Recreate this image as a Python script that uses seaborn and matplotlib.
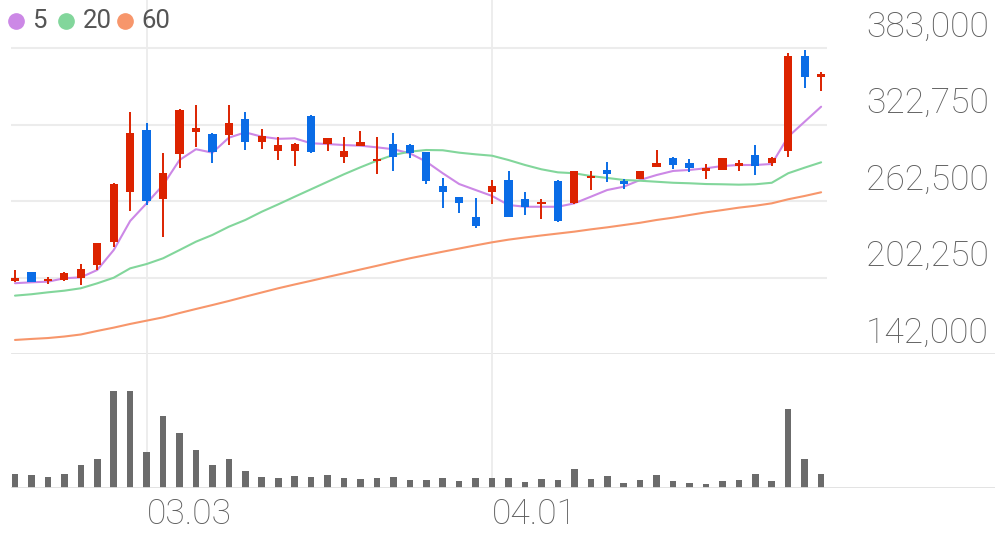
import numpy as np
import pandas as pd
import seaborn as sns
import matplotlib
matplotlib.use("Agg")
import matplotlib.pyplot as plt
from matplotlib.transforms import offset_copy, blended_transform_factory

# daily candles (50 trading days)
opens = [200000, 207000, 199500, 200500, 202000, 212500, 230500, 269500, 318500, 264500,
         300000, 317000, 315500, 314500, 327500, 309000, 302000, 302000, 330000, 307500,
         297000, 306000, 294000, 308000, 307000, 301000, 274500, 265500, 250000, 270000,
         279500, 264500, 260000, 278500, 261000, 280500, 287000, 278500, 280000, 289500,
         296500, 293000, 286500, 287500, 290500, 299000, 292500, 302500, 377000, 360500]
highs = [208500, 207000, 202500, 207000, 213000, 230000, 277000, 332500, 324000, 300500,
         335500, 338500, 316000, 338500, 332500, 319500, 313000, 308500, 330500, 312000,
         313500, 318000, 313500, 316000, 307500, 301500, 280500, 266000, 265000, 279500,
         286000, 270000, 264000, 279500, 286500, 286500, 293500, 280000, 286500, 303000,
         297500, 295500, 292000, 296500, 295000, 306500, 297500, 379000, 382000, 364500]
lows = [199000, 199000, 197000, 200000, 196500, 208500, 226500, 255000, 259500, 234000,
        289000, 305000, 293000, 307000, 303000, 303500, 295000, 290000, 300500, 302000,
        293000, 306000, 284000, 286500, 296500, 276500, 257000, 253500, 241500, 260000,
        250000, 251500, 248500, 246500, 260500, 271500, 278000, 272000, 280000, 289500,
        288000, 285500, 280000, 287500, 286500, 283000, 290000, 297000, 352000, 349000]
closes = [202000, 199000, 200500, 206000, 209500, 229500, 276000, 316000, 262500, 285000,
          334500, 320500, 301000, 324500, 309500, 314000, 307000, 307500, 301000, 312000,
          302000, 309500, 296000, 297500, 300500, 278500, 269500, 261500, 243000, 274500,
          250500, 258000, 261500, 247000, 286000, 282000, 284000, 276000, 286500, 293000,
          291000, 288500, 288500, 296500, 293000, 290500, 296500, 377000, 360500, 363000]

# moving averages
ma5 = [198000, 198700, 199200, 201900, 202600, 208400, 224100, 247000, 260900, 275300,
       295000, 303500, 300800, 312600, 316800, 313400, 311700, 312100, 308200, 307600,
       306800, 306300, 305000, 303500, 300300, 293700, 284600, 276100, 271400, 266700,
       259600, 258200, 258200, 258200, 260900, 266100, 271400, 274000, 279300, 283200,
       286400, 287200, 288500, 290300, 291100, 291100, 291900, 313400, 325200, 337000]
ma20 = [188200, 189300, 190800, 192100, 194000, 197900, 202300, 209700, 213100, 217600,
        224100, 230700, 236000, 242500, 247800, 254300, 260100, 266100, 272000, 277900,
        283800, 289300, 294500, 299000, 301600, 302900, 302700, 300800, 299500, 298400,
        295000, 291100, 287700, 285300, 284600, 282400, 280900, 279300, 278700, 277900,
        277100, 276700, 276100, 275900, 275600, 275900, 277100, 284600, 289000, 293200]
ma60 = [153300, 154100, 154800, 156000, 157600, 160400, 163000, 165900, 168500, 171100,
        174500, 177700, 180800, 184000, 187400, 190700, 194000, 197000, 199900, 202900,
        205800, 208800, 211700, 214700, 217600, 220200, 222800, 225300, 227800, 230200,
        232300, 234000, 235600, 237100, 238600, 240400, 242000, 243800, 245600, 247800,
        249600, 251700, 253800, 255600, 257500, 259000, 260900, 264100, 266700, 269600]

# volume (thousand shares)
volume = [41, 39, 31, 40, 67, 85, 290, 290, 107, 216,
          165, 114, 67, 86, 51, 31, 28, 35, 33, 38,
          29, 26, 28, 32, 22, 23, 28, 19, 29, 30,
          30, 18, 26, 22, 56, 26, 35, 14, 23, 39,
          21, 14, 12, 21, 23, 42, 21, 236, 86, 41]

price_ticks = [383000, 322750, 262500, 202250, 142000]
date_idx = [8, 29]
date_labels = ["03.03", "04.01"]
ma_names = ["5", "20", "60"]

RED = "#dc2300"
BLUE = "#0a6ce6"
MA_COLORS = ["#cc88e6", "#82d69b", "#f7966b"]
GRID = "#ececec"
TEXT = "#5e5e5e"

df = pd.DataFrame({"idx": np.arange(len(closes)), "open": opens, "high": highs,
                   "low": lows, "close": closes, "ma5": ma5, "ma20": ma20,
                   "ma60": ma60, "volume": volume})

sns.set_style("white")
plt.rcParams["font.family"] = ["Roboto", "DejaVu Sans"]

fig = plt.figure(figsize=(10.04, 5.41), dpi=100)
ax = fig.add_axes([11 / 1004, 1 - 354.3 / 541, 984 / 1004, 354.3 / 541])
axv = fig.add_axes([11 / 1004, 1 - 487.5 / 541, 984 / 1004, 133.2 / 541])

xmin, xmax = -0.243, 59.57
ymin, ymax = 142000, 421040

# grid
ax.hlines(price_ticks[:-1], xmin, 49.36, color=GRID, lw=1.5, zorder=0)
ax.axhline(price_ticks[-1], color="#e4e4e4", lw=2, zorder=0)
for i in date_idx:
    ax.axvline(i, color=GRID, lw=1.3, zorder=0)
    axv.axvline(i, color=GRID, lw=1.3, zorder=0)

# moving averages
for col, c in zip(["ma5", "ma20", "ma60"], MA_COLORS):
    sns.lineplot(data=df, x="idx", y=col, color=c, lw=1.5, ax=ax, zorder=2)

# candles
up = df["close"] >= df["open"]
colors = np.where(up, RED, BLUE)
ax.vlines(df["idx"], df["low"], df["high"], colors=colors, lw=1.4, zorder=3)
body_lo = df[["open", "close"]].min(axis=1)
body_h = (df["close"] - df["open"]).abs().clip(lower=1600)
ax.bar(df["idx"], body_h, bottom=body_lo, width=0.5, color=colors, lw=0, zorder=4)

ax.set_xlim(xmin, xmax)
ax.set_ylim(ymin, ymax)
ax.set_axis_off()

# price labels, right aligned above each grid line
tr = offset_copy(blended_transform_factory(ax.transAxes, ax.transData),
                 fig=fig, x=0, y=21.5, units="dots")
for v in price_ticks:
    ax.text(0.9939, v, f"{v:,}", transform=tr, ha="right", va="center",
            fontsize=25.5, color=TEXT, fontweight="light")

# volume
sns.barplot(data=df, x="idx", y="volume", native_scale=True, color="#6b6b6b",
            saturation=1, width=0.4, linewidth=0, ax=axv, zorder=2)
axv.axhline(0, color="#e0e0e0", lw=2, zorder=3)
axv.set_xlim(xmin, xmax)
axv.set_ylim(0, 400)
axv.set_axis_off()

# date labels
trx = blended_transform_factory(axv.transData, fig.transFigure)
for i, lab in zip(date_idx, date_labels):
    axv.text(i, 1 - 514 / 541, lab, transform=offset_copy(trx, fig=fig, x=0, units="dots"),
             ha="left", va="center", fontsize=25.5, color=TEXT, fontweight="light")

# legend
leg_x = [16, 66, 125]
txt_x = [32, 83, 141]
for lx, tx, name, c in zip(leg_x, txt_x, ma_names, MA_COLORS):
    fig.add_artist(plt.Line2D([lx / 1004], [1 - 20.7 / 541], marker="o", ms=11,
                              color=c, lw=0, transform=fig.transFigure))
    fig.text(tx / 1004, 1 - 21 / 541, name, ha="left", va="center", fontsize=18.5,
             color="#555555")

fig.savefig("out.png", dpi=100)
